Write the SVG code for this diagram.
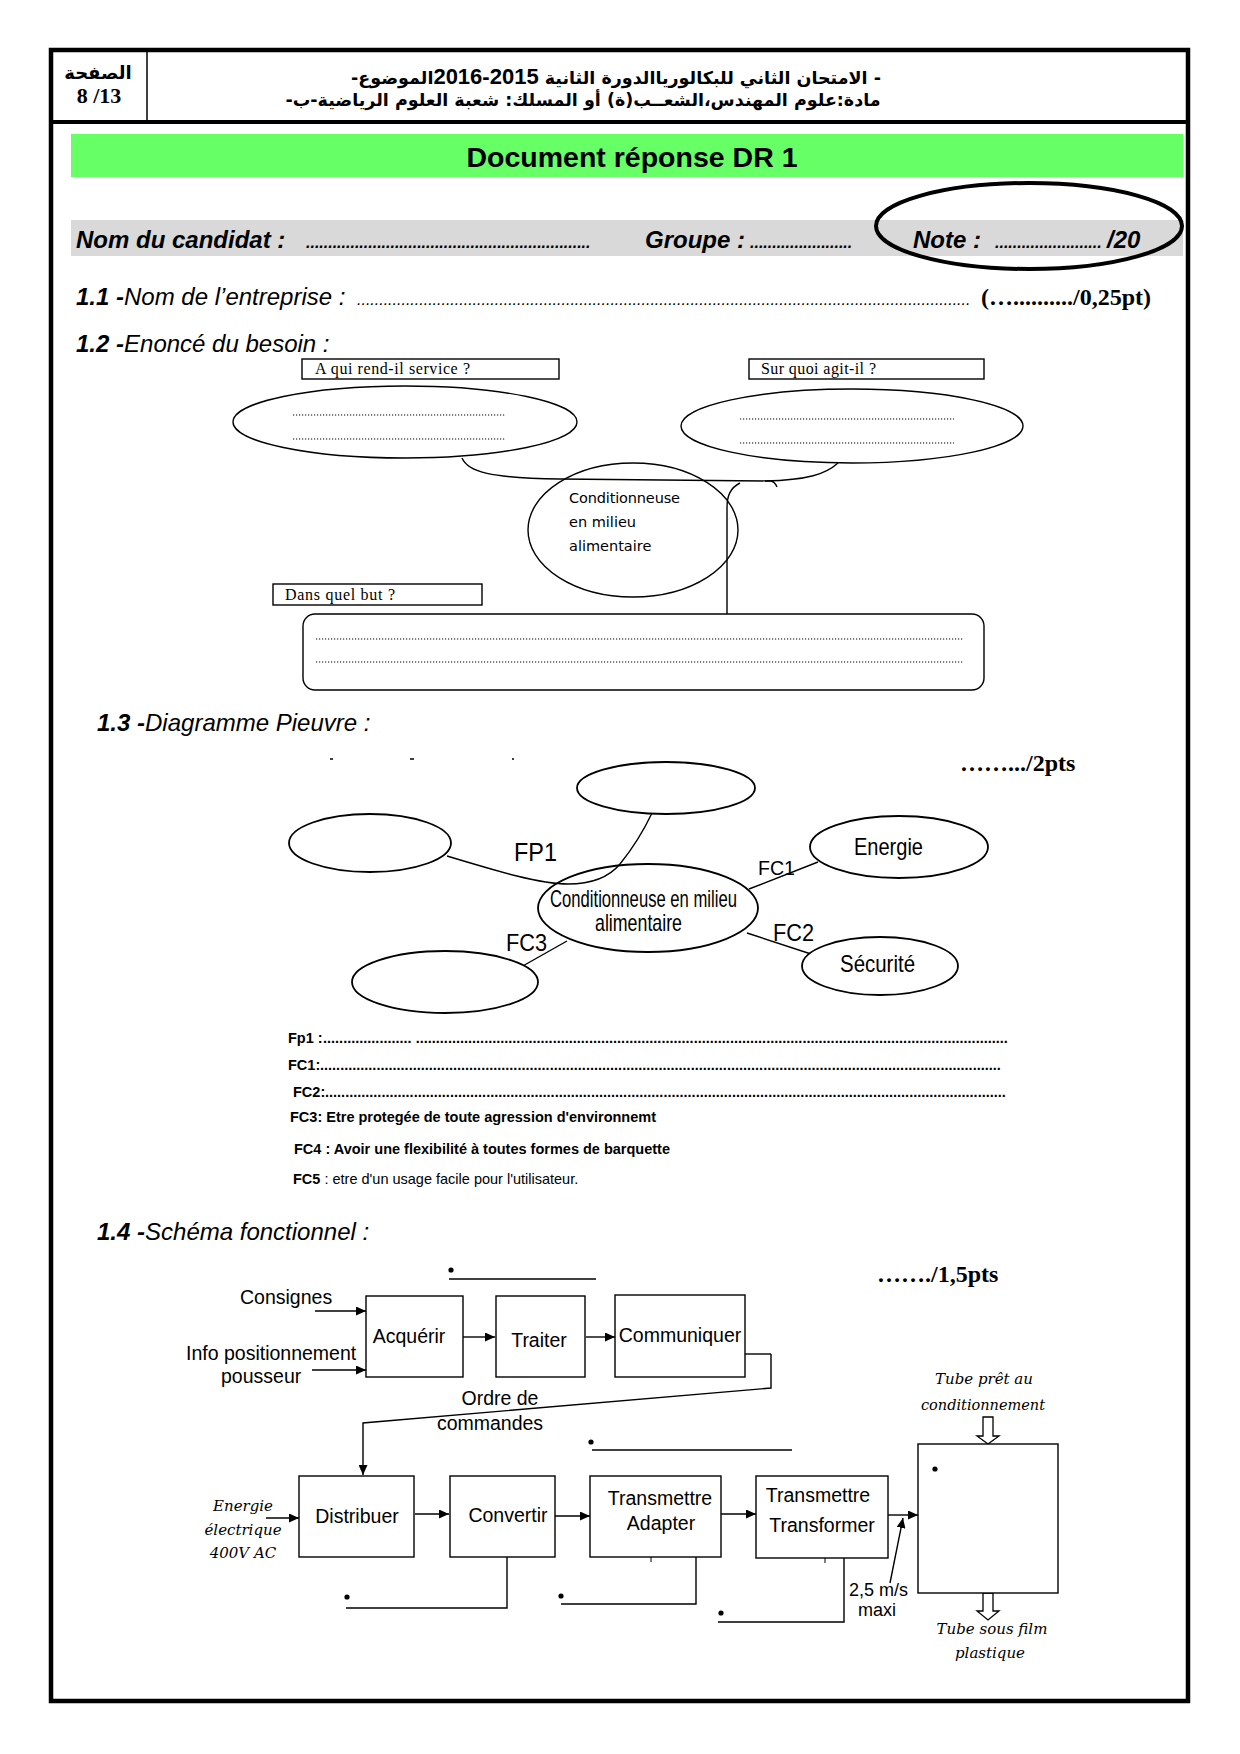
<svg xmlns="http://www.w3.org/2000/svg" width="1240" height="1754" viewBox="0 0 1240 1754">
<defs>
<style>
.s{font-family:"Liberation Sans",Arial,sans-serif}
.sb{font-family:"Liberation Sans",Arial,sans-serif;font-weight:bold}
.bi{font-family:"Liberation Sans",Arial,sans-serif;font-weight:bold;font-style:italic}
.i{font-family:"Liberation Sans",Arial,sans-serif;font-style:italic}
.tb{font-family:"Liberation Serif","Times New Roman",serif;font-weight:bold}
.t{font-family:"Liberation Serif","Times New Roman",serif}
.ti{font-family:"DejaVu Serif",serif;font-style:italic}
.dj{font-family:"DejaVu Sans",sans-serif}
.ar{font-family:"DejaVu Sans",sans-serif;font-weight:bold}
.ln{fill:none;stroke:#000;stroke-width:1.4}
.box{fill:#fff;stroke:#000;stroke-width:1.4}
.el{fill:#fff;stroke:#000;stroke-width:1.8}
.eln{fill:none;stroke:#000;stroke-width:1.8}
.dot{fill:none;stroke:#000;stroke-width:1.2;stroke-dasharray:1.2 1.8}
</style>
<marker id="ah" markerUnits="userSpaceOnUse" markerWidth="11" markerHeight="9" refX="10" refY="4.5" orient="auto"><path d="M0,0 L10,4.5 L0,9 z" fill="#000"/></marker>
</defs>
<rect width="1240" height="1754" fill="#fff"/>

<g id="frame">
<rect x="51" y="50" width="1137" height="1651" fill="none" stroke="#000" stroke-width="4.5"/>
<line x1="51" y1="122" x2="1188" y2="122" stroke="#000" stroke-width="4"/>
<line x1="147" y1="52" x2="147" y2="120" stroke="#000" stroke-width="1.5"/>
</g>

<g id="header">
<text class="ar" x="98" y="79" font-size="18" text-anchor="middle">الصفحة</text>
<text class="tb" x="99" y="103" font-size="22" text-anchor="middle">8 /13</text>
<text class="ar" x="616" y="84" font-size="17.5" text-anchor="middle" direction="rtl">- الامتحان الثاني للبكالورياالدورة الثانية <tspan class="sb" font-size="22">2015-2016</tspan>الموضوع-</text>
<text class="ar" x="583" y="106" font-size="17.5" text-anchor="middle" direction="rtl">مادة:علوم المهندس،الشعــب(ة) أو المسلك: شعبة العلوم الرياضية-ب-</text>
</g>

<g id="title">
<rect x="71" y="134" width="1112" height="43" fill="#66ff66"/>
<text class="sb" x="632" y="167" font-size="28.5" text-anchor="middle">Document réponse DR 1</text>
</g>

<g id="candidat">
<rect x="71" y="220" width="1112" height="36" fill="#d9d9d9"/>
<text class="bi" x="76" y="248" font-size="24">Nom du candidat :</text>
<text class="bi" x="306" y="248" font-size="16">................................................................</text>
<text class="bi" x="645" y="248" font-size="24">Groupe :</text>
<text class="bi" x="750" y="248" font-size="16">.......................</text>
<text class="bi" x="913" y="248" font-size="24">Note :</text>
<text class="bi" x="995" y="248" font-size="16">........................</text>
<text class="bi" x="1107" y="248" font-size="24">/20</text>
<ellipse cx="1029" cy="226" rx="153" ry="43" fill="none" stroke="#000" stroke-width="4"/>
</g>

<g id="q11">
<text x="76" y="305" font-size="24"><tspan class="bi">1.1 -</tspan><tspan class="i">Nom de l’entreprise :</tspan></text>
<text class="i" x="357" y="305" font-size="16">..........................................................................................................................................</text>
<text class="tb" x="981" y="305" font-size="24">(…........../0,25pt)</text>
</g>

<g id="q12">
<text x="76" y="352" font-size="24"><tspan class="bi">1.2 -</tspan><tspan class="i">Enoncé du besoin :</tspan></text>
</g>

<g id="bete-connectors">
<path class="ln" d="M462,458 C468,472 490,478 560,479 L771,481 Q775,482 777,487"/>
<path class="ln" d="M838,463 C826,474 808,480 765,481"/>
<path class="ln" d="M740,483 C730,488 727,496 727,508 L727,614"/>
</g>

<g id="bete-qui">
<rect class="box" x="302" y="359" width="257" height="20"/>
<text class="t" x="315" y="374" font-size="16" textLength="155">A qui rend-il service ?</text>
<ellipse class="ln" cx="405" cy="422" rx="172" ry="36"/>
<line class="dot" x1="293" y1="415" x2="505" y2="415"/>
<line class="dot" x1="293" y1="439" x2="505" y2="439"/>
</g>

<g id="bete-quoi">
<rect class="box" x="749" y="359" width="235" height="20"/>
<text class="t" x="761" y="374" font-size="16" textLength="115">Sur quoi agit-il ?</text>
<ellipse class="ln" cx="852" cy="426" rx="171" ry="37"/>
<line class="dot" x1="740" y1="419" x2="954" y2="419"/>
<line class="dot" x1="740" y1="443" x2="954" y2="443"/>
</g>

<g id="bete-produit">
<ellipse class="ln" cx="633" cy="530" rx="105" ry="67"/>
<text class="dj" x="569" y="503" font-size="14.5" textLength="111">Conditionneuse</text>
<text class="dj" x="569" y="527" font-size="14.5">en milieu</text>
<text class="dj" x="569" y="551" font-size="14.5">alimentaire</text>
</g>

<g id="bete-but">
<rect class="box" x="273" y="584" width="209" height="21"/>
<text class="t" x="285" y="600" font-size="16" textLength="110">Dans quel but ?</text>
<rect class="box" x="303" y="614" width="681" height="76" rx="12"/>
<line class="dot" x1="316" y1="639" x2="963" y2="639"/>
<line class="dot" x1="316" y1="662" x2="963" y2="662"/>
</g>

<g id="q13">
<text x="97" y="731" font-size="24"><tspan class="bi">1.3 -</tspan><tspan class="i">Diagramme Pieuvre :</tspan></text>
<text class="tb" x="960" y="771" font-size="24">…….../2pts</text>
<line x1="330" y1="759" x2="333" y2="759" stroke="#000" stroke-width="1.5"/>
<line x1="410" y1="759" x2="414" y2="759" stroke="#000" stroke-width="1.5"/>
<line x1="512" y1="759" x2="514" y2="759" stroke="#000" stroke-width="1.5"/>
</g>

<g id="pieuvre-connectors">
<path class="ln" stroke-width="1.8" d="M447,856 C500,872 540,884 568,884 C595,884 610,876 620,864 C633,848 643,832 652,813"/>
<path class="ln" stroke-width="1.8" d="M749,889 L818,862"/>
<path class="ln" stroke-width="1.8" d="M747,933 L811,954"/>
<path class="ln" stroke-width="1.8" d="M567,941 L521,967"/>
<text class="s" x="514" y="861" font-size="25" textLength="43" lengthAdjust="spacingAndGlyphs">FP1</text>
<text class="s" x="758" y="875" font-size="21" textLength="37" lengthAdjust="spacingAndGlyphs">FC1</text>
<text class="s" x="773" y="941" font-size="24" textLength="41" lengthAdjust="spacingAndGlyphs">FC2</text>
<text class="s" x="506" y="951" font-size="24" textLength="41" lengthAdjust="spacingAndGlyphs">FC3</text>
</g>

<g id="pieuvre-top"><ellipse class="eln" cx="666" cy="788" rx="89" ry="26"/></g>
<g id="pieuvre-left"><ellipse class="el" cx="370" cy="843" rx="81" ry="29"/></g>
<g id="pieuvre-center">
<ellipse class="eln" cx="648" cy="908" rx="110" ry="44"/>
<text class="s" x="550" y="907" font-size="24" textLength="187" lengthAdjust="spacingAndGlyphs">Conditionneuse en milieu</text>
<text class="s" x="595" y="931" font-size="24" textLength="87" lengthAdjust="spacingAndGlyphs">alimentaire</text>
</g>
<g id="pieuvre-energie">
<ellipse class="el" cx="899" cy="847" rx="89" ry="31"/>
<text class="s" x="854" y="855" font-size="24" textLength="69" lengthAdjust="spacingAndGlyphs">Energie</text>
</g>
<g id="pieuvre-securite">
<ellipse class="el" cx="880" cy="966" rx="78" ry="29"/>
<text class="s" x="840" y="972" font-size="24" textLength="75" lengthAdjust="spacingAndGlyphs">Sécurité</text>
</g>
<g id="pieuvre-bl"><ellipse class="el" cx="445" cy="982" rx="93" ry="31"/></g>

<g id="fonctions">
<text class="sb" x="288" y="1043" font-size="14.5">Fp1 :</text>
<text class="sb" x="323" y="1043" font-size="14.5">...................... ...................................................................................................................................................</text>
<text class="sb" x="288" y="1070" font-size="14.5">FC1:</text>
<text class="sb" x="320" y="1070" font-size="14.5">.........................................................................................................................................................................</text>
<text class="sb" x="293" y="1097" font-size="14.5">FC2:</text>
<text class="sb" x="325" y="1097" font-size="14.5">.........................................................................................................................................................................</text>
<text class="sb" x="290" y="1122" font-size="14.5">FC3: Etre protegée de toute agression d'environnemt</text>
<text class="sb" x="294" y="1154" font-size="14.5">FC4 : Avoir une flexibilité à toutes formes de barquette</text>
<text class="s" x="293" y="1184" font-size="14.5"><tspan font-weight="bold">FC5</tspan> : etre d'un usage facile pour l'utilisateur.</text>
</g>

<g id="q14">
<text x="97" y="1240" font-size="24"><tspan class="bi">1.4 -</tspan><tspan class="i">Schéma fonctionnel :</tspan></text>
<text class="tb" x="877" y="1282" font-size="24">……./1,5pts</text>
</g>

<g id="schema-connectors">
<circle cx="451" cy="1270" r="2.6"/>
<line x1="449" y1="1279" x2="596" y2="1279" stroke="#000" stroke-width="1.3"/>
<path class="ln" d="M315,1311 H366" marker-end="url(#ah)"/>
<path class="ln" stroke-width="2.6" d="M312,1370 H366" marker-end="url(#ah)"/>
<path class="ln" d="M463,1337 H495" marker-end="url(#ah)"/>
<path class="ln" d="M586,1337 H615" marker-end="url(#ah)"/>
<path class="ln" stroke-width="2.6" d="M745,1354 H771"/>
<path class="ln" stroke-width="1.8" d="M771,1354 V1388 L363,1423 V1475" marker-end="url(#ah)"/>
<text class="s" x="500" y="1405" font-size="19.5" text-anchor="middle">Ordre de</text>
<text class="s" x="490" y="1430" font-size="19.5" text-anchor="middle">commandes</text>
<circle cx="591" cy="1442" r="2.6"/>
<line x1="592" y1="1450" x2="792" y2="1450" stroke="#000" stroke-width="1.3"/>
<path class="ln" stroke-width="2" d="M266,1518 H299" marker-end="url(#ah)"/>
<path class="ln" d="M415,1514 H449" marker-end="url(#ah)"/>
<path class="ln" d="M555,1516 H590" marker-end="url(#ah)"/>
<path class="ln" stroke-width="3" d="M721,1514 H756" marker-end="url(#ah)"/>
<path class="ln" d="M888,1515 H918" marker-end="url(#ah)"/>
<path class="ln" d="M890,1583 L903,1518" marker-end="url(#ah)"/>
<path class="ln" d="M507,1557 V1608 H346"/>
<circle cx="347" cy="1597" r="2.6"/>
<path class="ln" d="M696,1557 V1604 H561"/>
<circle cx="561" cy="1596" r="2.6"/>
<path class="ln" d="M844,1558 V1622 H718"/>
<circle cx="721" cy="1613" r="2.6"/>
<line x1="651" y1="1557" x2="651" y2="1562" stroke="#000" stroke-width="1"/>
<line x1="825" y1="1558" x2="825" y2="1563" stroke="#000" stroke-width="1"/>
<path d="M983,1417 H993 V1436 H999 L988,1444 L977,1436 H983 Z" fill="#fff" stroke="#000" stroke-width="1.3"/>
<path d="M983,1593 H993 V1611 H999 L988,1620 L977,1611 H983 Z" fill="#fff" stroke="#000" stroke-width="1.3"/>
</g>

<g id="inputs">
<text class="s" x="240" y="1304" font-size="19.5">Consignes</text>
<text class="s" x="186" y="1360" font-size="19.5">Info positionnement</text>
<text class="s" x="221" y="1383" font-size="19.5">pousseur</text>
<text class="ti" x="243" y="1511" font-size="15" text-anchor="middle">Energie</text>
<text class="ti" x="243" y="1535" font-size="15" text-anchor="middle">électrique</text>
<text class="ti" x="243" y="1558" font-size="15" text-anchor="middle">400V AC</text>
<text class="ti" x="984" y="1384" font-size="15" text-anchor="middle">Tube prêt au</text>
<text class="ti" x="983" y="1410" font-size="14.5" text-anchor="middle">conditionnement</text>
<text class="ti" x="992" y="1634" font-size="15" text-anchor="middle">Tube sous film</text>
<text class="ti" x="990" y="1658" font-size="15" text-anchor="middle">plastique</text>
<text class="s" x="849" y="1596" font-size="18">2,5 m/s</text>
<text class="s" x="858" y="1616" font-size="18">maxi</text>
</g>

<g id="acquerir"><rect class="box" x="366" y="1296" width="97" height="81"/><text class="s" x="409" y="1343" font-size="19.5" text-anchor="middle">Acquérir</text></g>
<g id="traiter"><rect class="box" x="496" y="1296" width="89" height="81"/><text class="s" x="539" y="1347" font-size="19.5" text-anchor="middle">Traiter</text></g>
<g id="communiquer"><rect class="box" x="615" y="1295" width="130" height="82"/><text class="s" x="680" y="1342" font-size="19.5" text-anchor="middle">Communiquer</text></g>
<g id="distribuer"><rect class="box" x="299" y="1476" width="115" height="81"/><text class="s" x="357" y="1523" font-size="19.5" text-anchor="middle">Distribuer</text></g>
<g id="convertir"><rect class="box" x="450" y="1476" width="105" height="81"/><text class="s" x="508" y="1522" font-size="19.5" text-anchor="middle">Convertir</text></g>
<g id="adapter"><rect class="box" x="590" y="1476" width="131" height="81"/><text class="s" x="660" y="1505" font-size="19.5" text-anchor="middle">Transmettre</text><text class="s" x="661" y="1530" font-size="19.5" text-anchor="middle">Adapter</text></g>
<g id="transformer"><rect class="box" x="756" y="1476" width="132" height="82"/><text class="s" x="818" y="1502" font-size="19.5" text-anchor="middle">Transmettre</text><text class="s" x="822" y="1532" font-size="19.5" text-anchor="middle">Transformer</text></g>
<g id="effecteur"><rect class="box" x="918" y="1444" width="140" height="149"/><circle cx="935" cy="1469" r="2.6"/></g>
</svg>
